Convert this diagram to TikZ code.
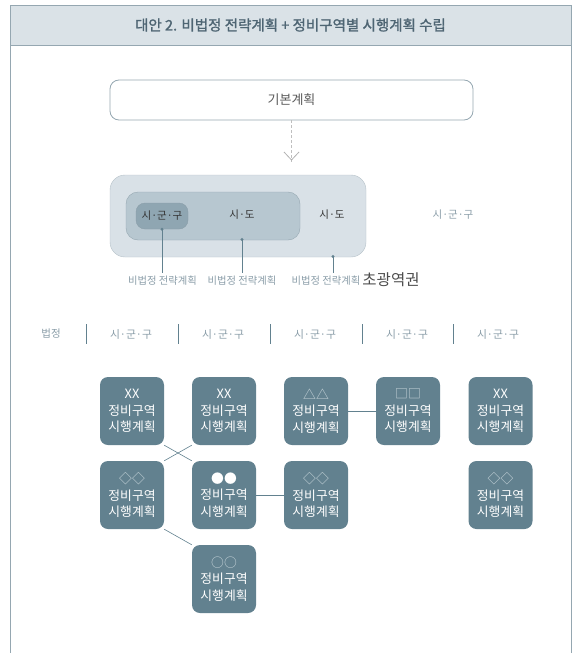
\documentclass[tikz,border=0pt]{standalone}
\usepackage{fontspec}
\newfontfamily\kr{Noto Sans CJK KR}
\newfontfamily\krm{Noto Sans CJK KR}[FakeBold=1.4]
\usetikzlibrary{positioning,arrows.meta,backgrounds}
\definecolor{slate}{HTML}{62818F}
\definecolor{headfill}{HTML}{DAE2E7}
\definecolor{rim}{HTML}{95A7B1}
\definecolor{ink}{HTML}{4E6573}
\definecolor{soft}{HTML}{8A9DA8}
\definecolor{zone1}{HTML}{D9E1E7}
\definecolor{zone2}{HTML}{B7C7D0}
\definecolor{zone3}{HTML}{8FA6B2}
\definecolor{sym}{HTML}{C9D6DC}
\tikzset{
  plan/.style={rectangle,rounded corners=8pt,fill=slate,minimum width=64pt,
    minimum height=68pt,inner sep=0pt,align=center,text=white,
    font=\kr\fontsize{12.8}{16.5}\selectfont},
  zone/.style={rectangle,draw,inner sep=0pt},
  tag/.style={font=\kr\fontsize{10.3}{12}\selectfont,text=soft},
  area/.style={font=\kr\fontsize{10.5}{12}\selectfont,text=black!80},
  link/.style={draw=slate,line width=0.6pt}
}
\begin{document}
\begin{tikzpicture}[x=1pt,y=-1pt,node distance=84pt and 92pt,on grid]
    \useasboundingbox (0,0) rectangle (575,653);
    \draw[rim,line width=0.8pt] (10,653) -- (10,5) -- (571,5) -- (571,653);
    \node[rectangle,fill=headfill,draw=rim,line width=0.8pt,minimum width=561pt,minimum height=40pt,
          inner sep=0pt,font=\krm\fontsize{14.5}{16}\selectfont,text=ink]
          (title) at (290.5,25) {대안 2. 비법정 전략계획 + 정비구역별 시행계획 수립};

    \node[rectangle,rounded corners=9pt,draw=rim,line width=0.8pt,minimum width=363pt,minimum height=40pt,
          font=\kr\fontsize{13}{15}\selectfont,text=black!65] (basic) at (291.5,100) {기본계획};
    \coordinate (tip) at (291.5,160);
    \draw[black!25,dashed,dash pattern=on 3pt off 2pt,line width=1pt] (basic.south) -- ([yshift=-2pt]tip);
    \draw[black!30,line width=0.8pt] (284,152) -- (tip) -- (299,152);

    \node[zone,rounded corners=15pt,fill=zone1,draw=rim!70,minimum width=256pt,minimum height=82pt] (wide) at (238,216) {};
    \node[zone,rounded corners=12pt,fill=zone2,draw=rim,minimum width=174pt,minimum height=48pt] (sido) at (213,216) {};
    \node[zone,rounded corners=9pt,fill=zone3,draw=rim!110,minimum width=52pt,minimum height=26pt,area] (sigungu) at (162,216) {시·군·구};
    \node[area] (sido txt) at (242,215) {시·도};
    \node[area] (wide txt) at (332,215) {시·도};
    \node[area,text=soft] (out txt) at (453,215) {시·군·구};

    \node[tag] (lab1) at (162.5,281) {비법정 전략계획};
    \node[tag] (lab2) at (242,281) {비법정 전략계획};
    \node[tag] (lab3) at (326,281) {비법정 전략계획};
    \node[font=\kr\fontsize{15.5}{17}\selectfont,text=black!70] (mega) at (391,280) {초광역권};
    \coordinate (p1) at (sigungu.south);
    \coordinate (p2) at (242,239.5);
    \coordinate (p3) at (333,256.5);
    \foreach \p in {p1,p2,p3} {
      \fill[slate] (\p) circle (1.6pt);
      \draw[slate,line width=0.8pt] (\p) -- (\p |- lab1.north);
    }

    \node[tag,text=soft,font=\kr\fontsize{10.5}{12}\selectfont] (legal) at (51,334) {법정};
    \foreach \i/\x in {1/131,2/223,3/315,4/407,5/498} {
      \node[tag,font=\kr\fontsize{10.8}{12}\selectfont] (gu\i) at (\x,334) {시·군·구};
      \draw[slate,line width=0.8pt] (\x-45,324) -- (\x-45,344);
    }

    \node[plan] (xx1) at (132,411) {XX\\정비구역\\시행계획};
    \node[plan] (xx2) [right=of xx1] {XX\\정비구역\\시행계획};
    \node[plan] (tri) [right=of xx2] {\textcolor{sym}{△△}\\정비구역\\시행계획};
    \node[plan] (sq)  [right=of tri] {\textcolor{sym}{□□}\\정비구역\\시행계획};
    \node[plan] (xx3) at (500.5,411) {XX\\정비구역\\시행계획};
    \node[plan] (dia1) [below=of xx1] {\textcolor{sym}{◇◇}\\정비구역\\시행계획};
    \node[plan] (dot) [below=of xx2] {●●\\정비구역\\시행계획};
    \node[plan] (dia2) [below=of tri] {\textcolor{sym}{◇◇}\\정비구역\\시행계획};
    \node[plan] (dia3) [below=of xx3] {\textcolor{sym}{◇◇}\\정비구역\\시행계획};
    \node[plan] (ring) [below=of dot] {\textcolor{sym}{○○}\\정비구역\\시행계획};

    \begin{scope}[on background layer]
    \path[link] (xx1.south east) edge (dot.north west)
                (xx2.south west) edge (dia1.north east)
                (dia1.south east) edge (ring.north west)
                (dot) edge (dia2)
                (tri) edge (sq);
    \end{scope}
\end{tikzpicture}
\end{document}
